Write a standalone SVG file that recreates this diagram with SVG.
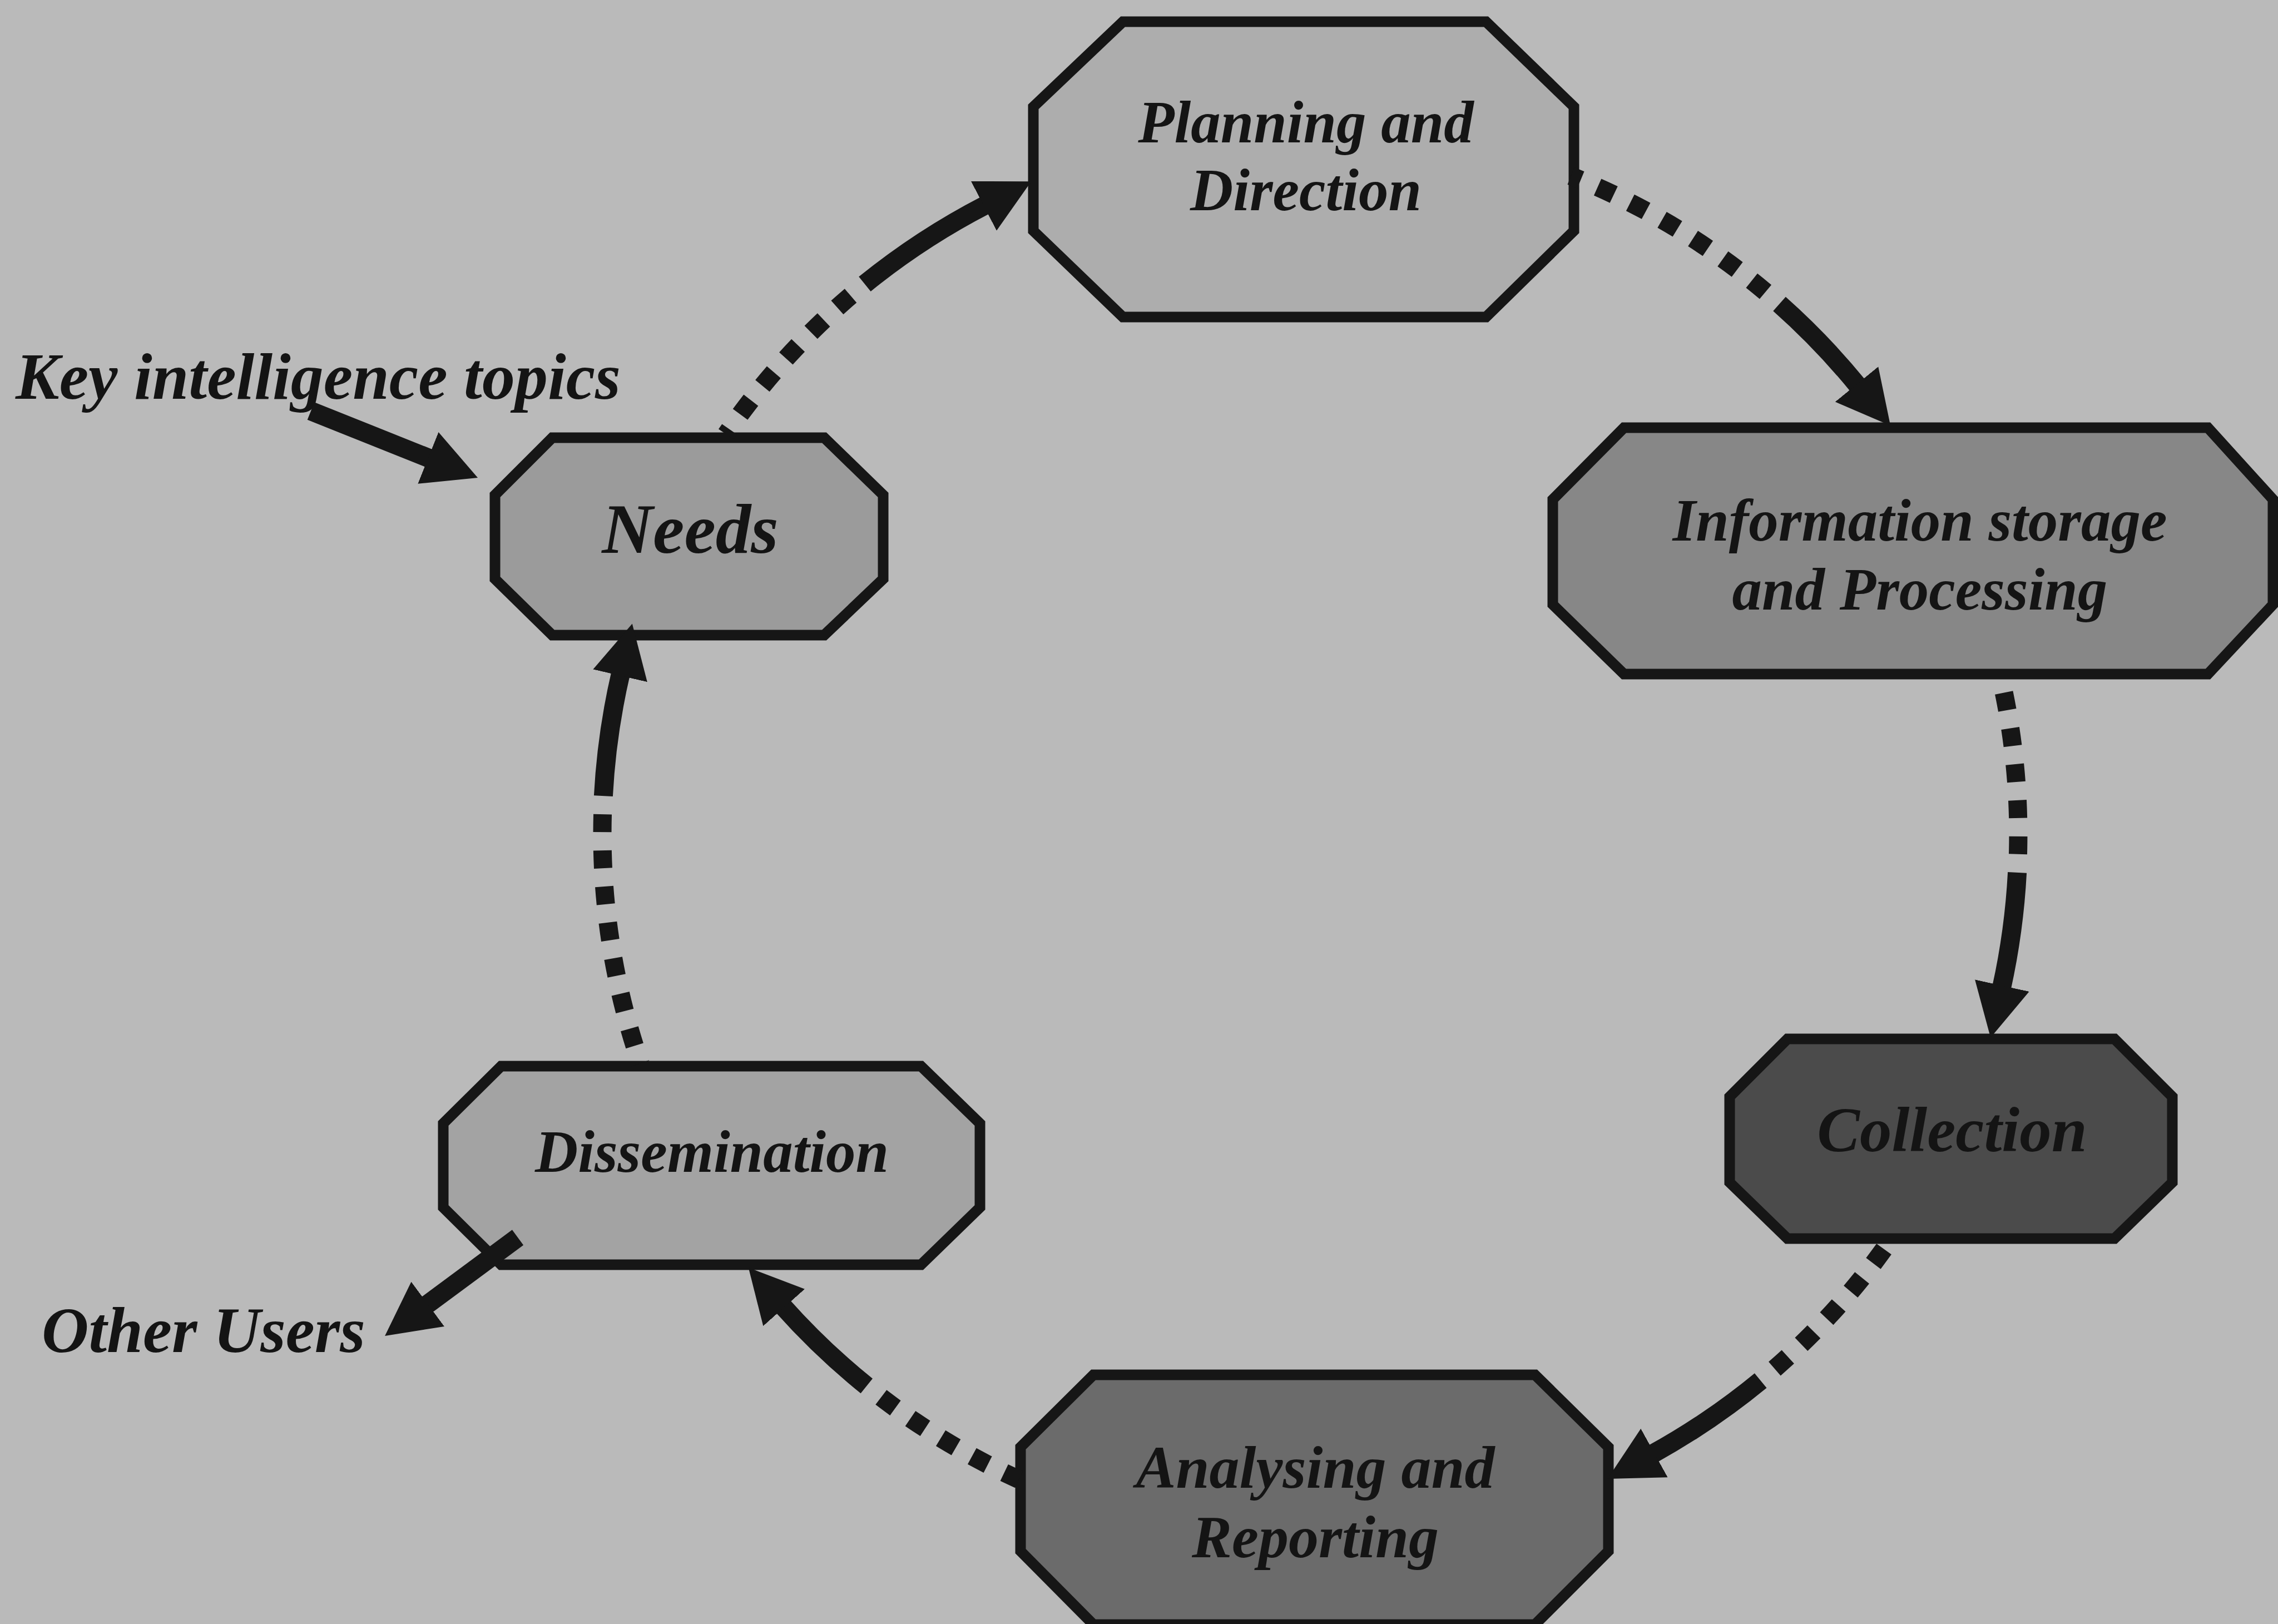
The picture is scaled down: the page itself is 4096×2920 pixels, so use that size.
<svg xmlns="http://www.w3.org/2000/svg" width="4096" height="2920" viewBox="0 0 4096 2920">
  <defs>
    <style>
      .bg { fill: #bababa; }
      .node { stroke: #161616; stroke-width: 19; stroke-linejoin: miter; }
      .lbl { font-family: "Liberation Serif", "Times New Roman", serif; font-weight: bold; font-style: italic; fill: #141414; text-anchor: middle; }
      .free { font-family: "Liberation Serif", "Times New Roman", serif; font-weight: bold; font-style: italic; fill: #141414; }
      .dots { fill: none; stroke: #161616; stroke-width: 33; stroke-dasharray: 32 33; stroke-dashoffset: 32; }
      .solid { fill: none; stroke: #161616; stroke-width: 34; marker-end: url(#head); }
    </style>
    <marker id="head" markerUnits="userSpaceOnUse" viewBox="-4 -52 98 104" refX="0" refY="0" markerWidth="98" markerHeight="104" orient="auto">
      <path d="M-4,-50 L92,0 L-4,50 Z" fill="#161616"/>
    </marker>
  </defs>

  <rect class="bg" x="0" y="0" width="4096" height="2920"/>

  <!-- Planning and Direction -->
  <g id="planning">
    <polygon class="node" fill="#adadad" points="2019,39 2672,39 2830,192 2830,415 2672,570 2019,570 1858,415 1858,192"/>
    <text class="lbl" x="2348" y="256" font-size="107">Planning and</text>
    <text class="lbl" x="2348" y="378" font-size="107">Direction</text>
  </g>

  <!-- Information storage and Processing -->
  <g id="storage">
    <polygon class="node" fill="#878787" points="2920,769 3970,769 4087,898 4087,1087 3970,1212 2920,1212 2792,1087 2792,898"/>
    <text class="lbl" x="3452" y="972" font-size="107">Information storage</text>
    <text class="lbl" x="3452" y="1096" font-size="107">and Processing</text>
  </g>

  <!-- Collection -->
  <g id="collection">
    <polygon class="node" fill="#4b4b4b" points="3214,1868 3802,1868 3906,1972 3906,2126 3802,2227 3214,2227 3110,2126 3110,1972"/>
    <text class="lbl" x="3510" y="2070" font-size="115" fill="#2a2a2a">Collection</text>
  </g>

  <!-- Analysing and Reporting -->
  <g id="analysing">
    <polygon class="node" fill="#6b6b6b" points="1966,2472 2760,2472 2892,2602 2892,2789 2760,2921 1966,2921 1835,2789 1835,2602"/>
    <text class="lbl" x="2365" y="2675" font-size="108" fill="#1c1c1c">Analysing and</text>
    <text class="lbl" x="2365" y="2800" font-size="108" fill="#1c1c1c">Reporting</text>
  </g>

  <!-- Dissemination -->
  <g id="dissemination">
    <polygon class="node" fill="#a3a3a3" points="901,1917 1656,1917 1762,2020 1762,2171 1656,2274 901,2274 797,2171 797,2020"/>
    <text class="lbl" x="1280" y="2107" font-size="107">Dissemination</text>
  </g>

  <!-- Needs -->
  <g id="needs">
    <polygon class="node" fill="#9b9b9b" points="993,787 1482,787 1588,890 1588,1041 1482,1142 993,1142 890,1041 890,890"/>
    <text class="lbl" x="1241" y="994" font-size="127">Needs</text>
  </g>

  <!-- Free labels -->
  <g id="key-topics">
    <text class="free" x="28" y="717" font-size="118">Key intelligence topics</text>
  </g>
  <g id="other-users">
    <text class="free" x="75" y="2431" font-size="117">Other Users</text>
  </g>

  <!-- Cycle connectors: dotted lead-in, then solid arc ending in an arrowhead -->
  <g id="connectors">
    <!-- Planning -> Information storage -->
    <path class="dots" d="M3199.5,546.5 A1273,1273 0 0 0 2824.6,316.4"/>
    <path class="solid" d="M3199.5,546.5 A1273,1273 0 0 1 3341.0,694.0"/>
    <!-- Information storage -> Collection -->
    <path class="dots" d="M3627.1,1568.8 A1273,1273 0 0 0 3597.8,1220.2"/>
    <path class="solid" d="M3627.1,1568.8 A1273,1273 0 0 1 3599.0,1776.0"/>
    <!-- Collection -> Analysing -->
    <path class="dots" d="M3165.7,2482.3 A1273,1273 0 0 0 3405.1,2221.0"/>
    <path class="solid" d="M3165.7,2482.3 A1273,1273 0 0 1 2971.0,2614.5"/>
    <!-- Analysing -> Dissemination -->
    <path class="dots" d="M1558.3,2492.1 A1273,1273 0 0 0 1832.1,2660.2"/>
    <path class="solid" d="M1558.3,2492.1 A1273,1273 0 0 1 1407.0,2348.0"/>
    <!-- Dissemination -> Needs -->
    <path class="dots" d="M1084.9,1431.2 A1273,1273 0 0 0 1151.6,1912.4"/>
    <path class="solid" d="M1084.9,1431.2 A1273,1273 0 0 1 1116.0,1211.0"/>
    <!-- Needs -> Planning -->
    <path class="dots" d="M1554.9,510.7 A1273,1273 0 0 0 1305.6,780.8"/>
    <path class="solid" d="M1554.9,510.7 A1273,1273 0 0 1 1772.5,368.5"/>
    <!-- Key intelligence topics -> Needs -->
    <path class="solid" d="M559,739 L773.6,824.8"/>
    <!-- Dissemination -> Other Users -->
    <path class="solid" d="M931,2225 L766.0,2347.2"/>
  </g>
</svg>
